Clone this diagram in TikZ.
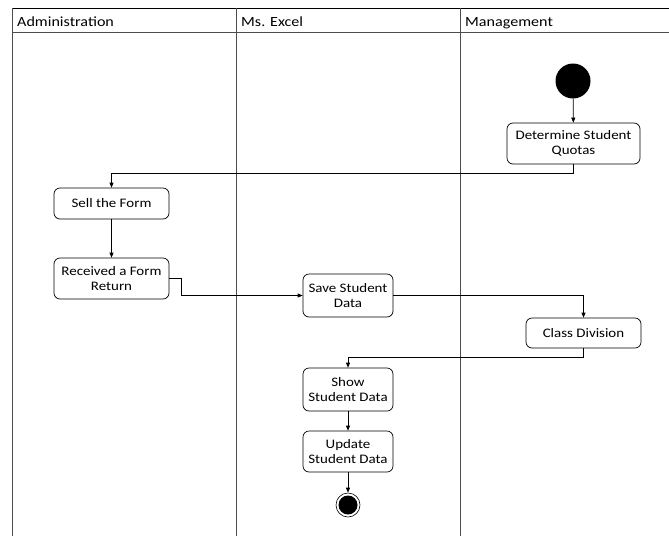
\documentclass[tikz,border=0pt]{standalone}
\usepackage{fontspec}
\setmainfont{Carlito}[FakeStretch=1.15]
\usetikzlibrary{arrows.meta}
\begin{document}
\begin{tikzpicture}[x=1pt,y=-1pt,
  lane/.style={draw=black!70,line width=0.9pt},
  act/.style={draw=black,rounded corners=6pt,line width=0.7pt,align=center,inner sep=1pt,font=\fontsize{13}{15}\selectfont},
  flow/.style={draw=black,line width=0.7pt,-{Triangle[length=5pt,width=4pt]}},
  hdr/.style={anchor=base west,inner sep=0pt,font=\fontsize{14}{16}\selectfont}]
\useasboundingbox (0,0) rectangle (669,536);
% swimlanes
\draw[black,line width=1pt] (12,8) -- (669,8);
\draw[lane] (12,32) -- (669,32);
\draw[lane] (12,8) -- (12,536);
\draw[lane] (236,8) -- (236,536);
\draw[lane] (460,8) -- (460,536);
\node[hdr] (h1) at (17,26) {Administration};
\node[hdr] (h2) at (241,26) {Ms. Excel};
\node[hdr] (h3) at (465,26) {Management};
% nodes
\node[circle,fill=black,minimum size=35pt,inner sep=0pt] (start) at (573,81) {};
\node[act,minimum width=133pt,minimum height=41pt] (det) at (573.5,143.5) {Determine Student\\Quotas};
\node[act,minimum width=115pt,minimum height=31pt] (sell) at (111.5,203.5) {Sell the Form};
\node[act,minimum width=115pt,minimum height=41pt] (rec) at (111.5,278.5) {Received a Form\\Return};
\node[act,minimum width=90pt,minimum height=43pt] (save) at (348,295.5) {Save Student\\Data};
\node[act,minimum width=115pt,minimum height=30pt] (cls) at (583.5,333) {Class Division};
\node[act,minimum width=90pt,minimum height=43pt] (show) at (348,389.5) {Show\\Student Data};
\node[act,minimum width=90pt,minimum height=41pt] (upd) at (348,451.5) {Update\\Student Data};
\node[circle,draw=black,line width=0.6pt,minimum size=24pt,inner sep=0pt] (end) at (348,505) {};
\fill[black] (end.center) circle (9.5pt);
% connectors
\draw[flow] (start) -- (det);
\draw[flow] (det.south) -- ++(0,9) -| (sell.north);
\draw[flow] (sell) -- (rec);
\draw[flow] (rec.east) -- ++(12,0) |- (save.west);
\draw[flow] (save.east) -| (cls.north);
\draw[flow] (cls.south) -- ++(0,9) -| (show.north);
\draw[flow] (show) -- (upd);
\draw[flow] (upd) -- (end);
\end{tikzpicture}
\end{document}
